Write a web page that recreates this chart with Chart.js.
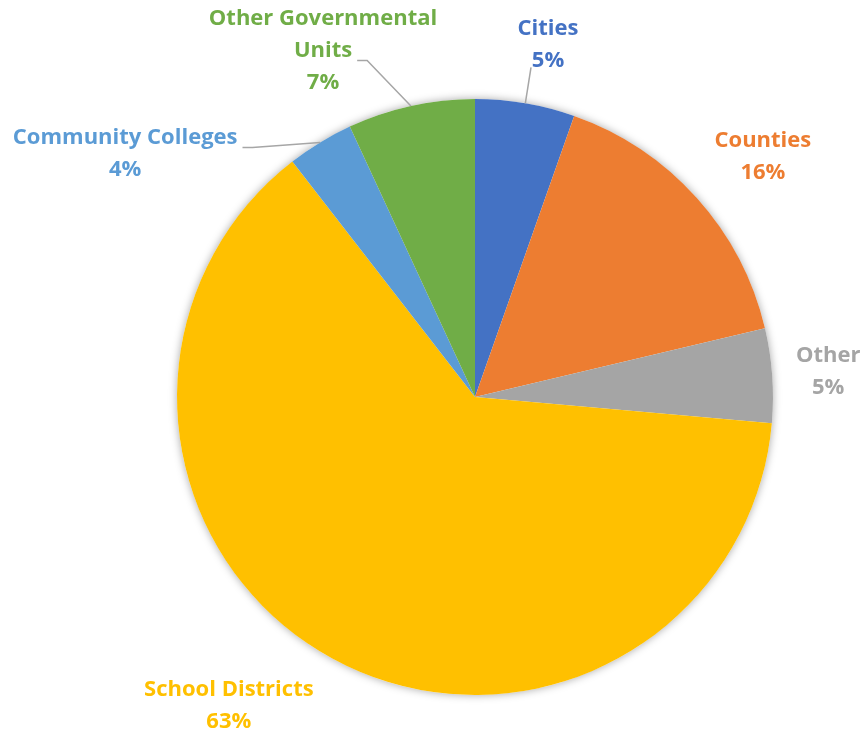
<!DOCTYPE html>
<html lang="en">
<head>
    <meta charset="UTF-8">
    <title>Share by Entity</title>
    <script src="https://cdn.jsdelivr.net/npm/chart.js@4.4.1/dist/chart.umd.min.js"></script>
</head>
<style>
    html, body {
        margin: 0;
        padding: 0;
        background: #fff;
    }
    #wrap {
        width: 863px;
        height: 736px;
    }
</style>
<body>
    <div id="wrap"><canvas id="pieCanvas"></canvas></div>

    <script>
        // data
        const categories = ['Cities', 'Counties', 'Other', 'School Districts', 'Community Colleges', 'Other Governmental Units'];
        const shares = [5.4, 15.9, 5.1, 63.1, 3.6, 6.9];
        const sliceColors = ['#4472C4', '#ED7D31', '#A5A5A5', '#FFC000', '#5B9BD5', '#70AD47'];

        // label text lines and placement (offset from pie centre, in radii)
        const labelLines = [['Cities'], ['Counties'], ['Other'], ['School Districts'], ['Community Colleges'], ['Other Governmental', 'Units']];
        const labelOffsets = [[0.245, -1.183], [0.966, -0.805], [1.185, -0.084], [-0.826, 1.035], [-1.174, -0.817], [-0.51, -1.163]];
        const leaderStyle = ['straight', 'none', 'none', 'none', 'elbow', 'elbow'];

        const FONT = 'bold 22px "Open Sans"';
        const LINE_H = 32;

        const shadowPlugin = {
            id: 'pieShadow',
            beforeDatasetsDraw(chart) {
                const arc = chart.getDatasetMeta(0).data[0];
                if (!arc) return;
                const ctx = chart.ctx;
                ctx.save();
                ctx.shadowColor = 'rgba(0,0,0,0.35)';
                ctx.shadowBlur = 9;
                ctx.shadowOffsetX = 0;
                ctx.shadowOffsetY = 0;
                ctx.fillStyle = '#fff';
                ctx.beginPath();
                ctx.arc(arc.x, arc.y, arc.outerRadius, 0, Math.PI * 2);
                ctx.fill();
                ctx.restore();
            }
        };

        const labelPlugin = {
            id: 'outerLabels',
            afterDatasetsDraw(chart) {
                const ctx = chart.ctx;
                const meta = chart.getDatasetMeta(0);
                const total = shares.reduce((a, b) => a + b, 0);
                ctx.save();
                ctx.font = FONT;
                ctx.textAlign = 'center';
                ctx.textBaseline = 'middle';
                meta.data.forEach((arc, i) => {
                    const r = arc.outerRadius;
                    const lines = labelLines[i].concat([Math.round(shares[i] / total * 100) + '%']);
                    const lx = arc.x + labelOffsets[i][0] * r;
                    const ly = arc.y + labelOffsets[i][1] * r;
                    const top = ly - (lines.length - 1) * LINE_H / 2;

                    // leader line to the slice edge
                    const mid = (arc.startAngle + arc.endAngle) / 2;
                    const ex = arc.x + Math.cos(mid) * r;
                    const ey = arc.y + Math.sin(mid) * r;
                    ctx.strokeStyle = '#A6A6A6';
                    ctx.lineWidth = 1.5;
                    if (leaderStyle[i] === 'straight') {
                        ctx.beginPath();
                        ctx.moveTo(lx - 17, top + LINE_H + 7);
                        ctx.lineTo(ex, ey);
                        ctx.stroke();
                    } else if (leaderStyle[i] === 'elbow') {
                        const w = ctx.measureText(lines[lines.length - 2]).width;
                        const sy = top + (lines.length - 2) * LINE_H + 10;
                        const sx = lx + w / 2 + 5;
                        ctx.beginPath();
                        ctx.moveTo(sx, sy);
                        ctx.lineTo(sx + 10, sy);
                        ctx.lineTo(ex, ey);
                        ctx.stroke();
                    }

                    ctx.fillStyle = sliceColors[i];
                    lines.forEach((t, k) => ctx.fillText(t, lx, top + k * LINE_H));
                });
                ctx.restore();
            }
        };

        new Chart(document.getElementById('pieCanvas'), {
            type: 'pie',
            data: {
                labels: categories,
                datasets: [{
                    data: shares,
                    backgroundColor: sliceColors,
                    borderWidth: 0
                }]
            },
            options: {
                responsive: true,
                maintainAspectRatio: false,
                animation: false,
                layout: { padding: { top: 99, bottom: 41, left: 177, right: 90 } },
                plugins: {
                    legend: { display: false },
                    tooltip: { enabled: false }
                }
            },
            plugins: [shadowPlugin, labelPlugin]
        });
    </script>
</body>
</html>
